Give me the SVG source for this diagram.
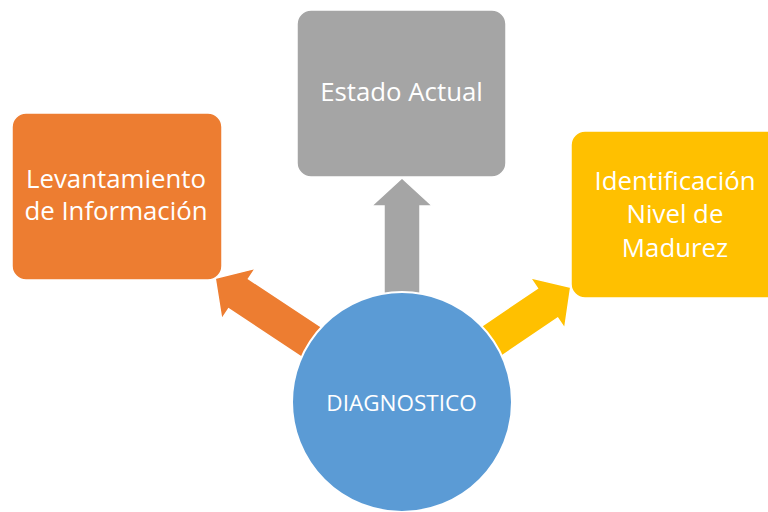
<svg xmlns="http://www.w3.org/2000/svg" width="768" height="512" viewBox="0 0 768 512">
<style>
.lbl{font-family:"Open Sans","Liberation Sans",sans-serif;fill:#ffffff;text-anchor:middle;font-size:25.8px}
.box{stroke:#ffffff;stroke-width:1.5}
</style>
<defs>
<path id="arrowShape" d="M0,-18 H196 V-30.5 L224,0 L196,30.5 V18 H0 Z"/>
</defs>
<rect width="768" height="512" fill="#ffffff"/>
<g id="connectors" stroke="#ffffff" stroke-width="1.5">
<use href="#arrowShape" fill="#A5A5A5" transform="translate(402,402) rotate(-90)"/>
<use href="#arrowShape" fill="#ED7D31" transform="translate(402,402) rotate(213.5)"/>
<use href="#arrowShape" fill="#FFC000" transform="translate(402,402) rotate(-34.2) translate(-20,0)"/>
</g>
<g id="estado">
<rect class="box" x="297" y="10" width="209" height="167" rx="14" fill="#A5A5A5"/>
<text class="lbl" x="401.5" y="101">Estado Actual</text>
</g>
<g id="levantamiento">
<rect class="box" x="12" y="113" width="210" height="167" rx="14" fill="#ED7D31"/>
<text class="lbl" x="116" y="188">Levantamiento</text>
<text class="lbl" x="116" y="220">de Información</text>
</g>
<g id="identificacion">
<rect class="box" x="571" y="131" width="212" height="167" rx="14" fill="#FFC000"/>
<text class="lbl" x="675" y="190">Identificación</text>
<text class="lbl" x="675" y="223">Nivel de</text>
<text class="lbl" x="675" y="257">Madurez</text>
</g>
<g id="diagnostico">
<circle cx="402" cy="402" r="110" fill="#5B9BD5" stroke="#ffffff" stroke-width="2"/>
<text class="lbl" x="401.5" y="411" style="font-size:22.5px">DIAGNOSTICO</text>
</g>
</svg>
